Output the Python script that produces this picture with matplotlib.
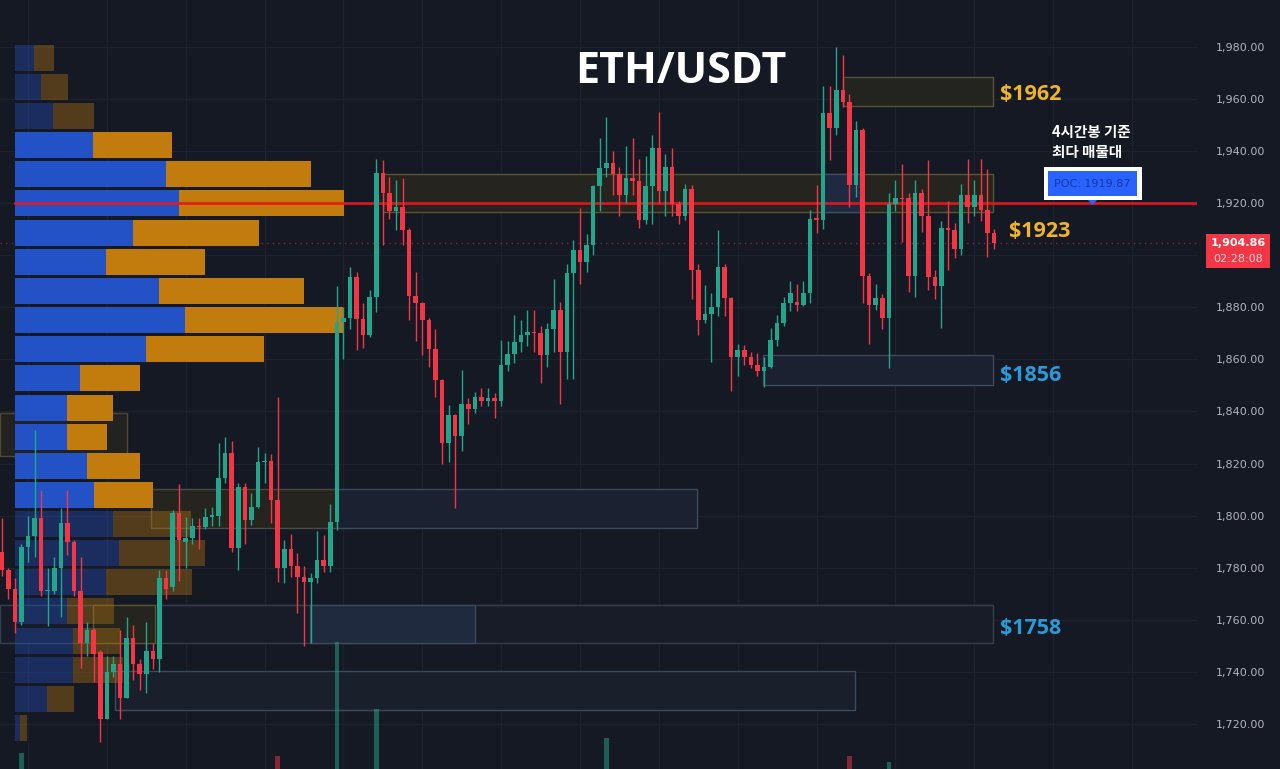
import numpy as np
import matplotlib.pyplot as plt
from matplotlib.patches import Rectangle, Polygon

# ETH/USDT 4h candles (open, high, low, close)
opens = [1786, 1779, 1772, 1759, 1788, 1792, 1799, 1771, 1771, 1780,
         1797, 1790, 1771, 1751, 1756, 1747.5, 1722, 1740, 1743, 1730,
         1753, 1743, 1739, 1748, 1745, 1776, 1772.5, 1801, 1790, 1791.5,
         1796, 1795.5, 1799.5, 1800, 1814.5, 1824, 1787.5, 1811, 1798.5, 1803.5,
         1820.5, 1821, 1806, 1780, 1787, 1780.5, 1776.5, 1774.5, 1776, 1783,
         1780.5, 1797.5, 1874.5, 1876, 1891.5, 1875.5, 1869.5, 1884, 1931.5, 1924,
         1917, 1918.5, 1909.5, 1884.5, 1881.5, 1875, 1864, 1852, 1828, 1838.5,
         1830.5, 1843, 1841, 1845.5, 1844, 1845, 1844, 1858, 1862, 1866.5,
         1869.5, 1870.5, 1870, 1861.5, 1871.5, 1879, 1863, 1893, 1902, 1897.5,
         1904, 1926.5, 1933.5, 1935.5, 1931, 1923, 1929.5, 1928.5, 1913.5, 1926.5,
         1941, 1924.5, 1934, 1919.5, 1915, 1925.5, 1894.5, 1875, 1877.5, 1880,
         1895.5, 1883.5, 1861, 1863.5, 1861, 1858, 1855.5, 1857, 1867.5, 1874,
         1881.5, 1882, 1881, 1885.5, 1914, 1913.5, 1954.5, 1949, 1963.5, 1959,
         1927, 1948, 1892, 1881, 1883.5, 1876, 1919.5, 1922, 1922, 1892,
         1924, 1915, 1891.5, 1888, 1910.5, 1909.5, 1902.5, 1923, 1918.5, 1923,
         1917.5, 1908.5]
highs = [1799, 1780, 1776, 1789, 1800, 1833, 1810, 1780, 1784, 1803,
         1810, 1790.5, 1784, 1759, 1757, 1748.5, 1746, 1746, 1756, 1761,
         1758, 1745, 1759, 1751, 1779, 1779, 1802, 1812, 1799.5, 1799,
         1799, 1803, 1803.5, 1828, 1830, 1828.5, 1812.5, 1812.5, 1808.5, 1826.5,
         1824, 1823.5, 1845.5, 1790.5, 1793, 1785.5, 1780.5, 1778, 1794, 1792.5,
         1804.5, 1888, 1880, 1895.5, 1893.5, 1881.5, 1886.5, 1937, 1936.5, 1930,
         1929, 1929.5, 1910.5, 1893.5, 1882, 1876, 1871.5, 1852.5, 1842.5, 1839,
         1856, 1845, 1847.5, 1849, 1849, 1847, 1867.5, 1867, 1877, 1875,
         1879, 1879, 1873, 1874, 1891, 1882, 1896.5, 1906, 1918, 1908,
         1927, 1945, 1953, 1940, 1934, 1942, 1945, 1937, 1938, 1946,
         1955, 1939, 1941, 1921, 1927.5, 1927, 1896.5, 1888.5, 1885.5, 1909.5,
         1896.5, 1884, 1866, 1865.5, 1863, 1862.5, 1861, 1872, 1877, 1884,
         1890, 1889, 1890, 1917.5, 1927, 1965, 1965, 1980, 1977, 1962,
         1951.5, 1949, 1893, 1889, 1885, 1924, 1929, 1935, 1924, 1929,
         1925.5, 1936.5, 1894.5, 1913, 1921, 1912.5, 1927.5, 1937, 1929, 1937,
         1933, 1910]
lows = [1777, 1768, 1755, 1758, 1782, 1784, 1769, 1757.5, 1770, 1761,
        1785, 1769, 1741.5, 1746, 1736, 1713, 1722, 1738, 1722, 1730,
        1737, 1733, 1732, 1741, 1740, 1768, 1771, 1775, 1780, 1789,
        1787, 1795, 1796, 1796, 1812.5, 1786, 1779, 1789, 1796.5, 1803,
        1812.5, 1797, 1774.5, 1774, 1776.5, 1762.5, 1750, 1751, 1774, 1778.5,
        1778.5, 1794.5, 1860, 1871.5, 1863.5, 1864.5, 1868.5, 1878, 1904, 1914,
        1909.5, 1904, 1875, 1867, 1861.5, 1857, 1845.5, 1820, 1820.5, 1803,
        1825, 1835, 1839.5, 1842, 1842, 1837.5, 1842, 1855.5, 1858.5, 1863,
        1865, 1863, 1851, 1857, 1863, 1843, 1852.5, 1852.5, 1889, 1893.5,
        1900, 1917, 1930, 1923, 1915, 1920, 1923, 1910.5, 1912, 1912,
        1920, 1915, 1915, 1912, 1913.5, 1883, 1869.5, 1874, 1859, 1876.5,
        1876.5, 1848, 1853.5, 1858, 1856.5, 1853.5, 1849.5, 1856.5, 1865, 1873,
        1878.5, 1878.5, 1880.5, 1881.5, 1908.5, 1910, 1936.5, 1946, 1957, 1918.5,
        1922.5, 1881.5, 1866, 1879, 1871.5, 1856.5, 1917, 1905, 1886, 1884,
        1909, 1886.5, 1883, 1872, 1894.5, 1899, 1900, 1912.5, 1915, 1913,
        1899.5, 1902.5]
closes = [1779, 1772, 1759, 1788, 1792, 1799, 1771, 1771.5, 1780, 1797,
          1790, 1771, 1751, 1756, 1747, 1722, 1740, 1743, 1730, 1753,
          1743, 1739, 1748, 1745, 1776, 1772, 1801, 1790.5, 1791.5, 1796,
          1795.5, 1799.5, 1800, 1814.5, 1824, 1787.5, 1811, 1798.5, 1803.5, 1820.5,
          1821, 1806, 1780, 1787, 1780.5, 1776.5, 1774.5, 1776, 1783, 1780.5,
          1797.5, 1874.5, 1876, 1891.5, 1875.5, 1869.5, 1884, 1931.5, 1924, 1917,
          1918.5, 1909.5, 1884.5, 1881.5, 1875, 1864, 1852, 1828, 1838.5, 1830.5,
          1843, 1841, 1845.5, 1844, 1845, 1844, 1858, 1862, 1866.5, 1869.5,
          1870.5, 1870, 1861.5, 1871.5, 1879, 1863, 1893, 1902, 1897.5, 1904,
          1926.5, 1933.5, 1935.5, 1931, 1923, 1929.5, 1928.5, 1913.5, 1926.5, 1941,
          1924.5, 1934, 1919.5, 1915, 1925.5, 1894.5, 1875, 1877.5, 1880, 1895.5,
          1883.5, 1861, 1863.5, 1861, 1858, 1855.5, 1857, 1867.5, 1874, 1881.5,
          1885.5, 1881, 1885.5, 1914, 1913.5, 1954.5, 1949, 1963.5, 1959, 1927,
          1948, 1892, 1881, 1883.5, 1876, 1919.5, 1922, 1921.5, 1892, 1924,
          1915, 1891.5, 1888, 1910.5, 1909.5, 1902.5, 1923, 1918.5, 1923, 1917.5,
          1908.5, 1904.86]

# volume bars that reach into the visible area (candle index, volume)
vol_idx = [3, 42, 51, 57, 92, 129, 135]
vol_val = [1.6, 1.3, 12.7, 6.0, 3.1, 1.3, 0.7]

# volume profile (row price centre, up volume, down volume)
vp_price = [1975.8, 1964.6, 1953.4, 1942.2, 1931.1, 1919.9, 1908.7, 1897.5,
            1886.3, 1875.1, 1863.9, 1852.7, 1841.5, 1830.3, 1819.2, 1808.0,
            1796.8, 1785.6, 1774.4, 1763.2, 1752.0, 1740.8, 1729.6, 1718.4]
vp_up = [19, 26, 38, 78, 151, 164, 118, 91, 144, 170, 131, 65,
         52, 52, 72, 79, 98, 104, 91, 52, 58, 58, 32, 5]
vp_down = [20, 27, 41, 79, 145, 165, 126, 99, 145, 158, 118, 60,
           46, 40, 53, 59, 78, 86, 86, 47, 47, 50, 27, 7]
value_area = (3, 15)   # rows inside the value area (bright)
poc = 1919.87

# supply / demand zones: (start idx, end idx, low, high, face, edge)
zones = [
    (128.0, 150.9, 1957.3, 1968.3, '#232320', '#5a5432'),
    (58.0, 150.9, 1916.5, 1931.1, '#25241f', '#5a5432'),
    (125.0, 130.6, 1916.5, 1931.1, '#1f2a40', '#3d4c66'),
    (115.9, 150.9, 1850.1, 1861.7, '#1b2130', '#3c4a5c'),
    (22.7, 51.0, 1795.2, 1810.3, '#25241e', '#4a4a44'),
    (51.0, 105.8, 1795.2, 1810.3, '#1b2130', '#3c4a5c'),
    (-0.3, 19.1, 1822.9, 1839.4, '#222220', '#4d4a30'),
    (-0.3, 150.9, 1751.1, 1765.7, '#181c28', '#34404f'),
    (46.9, 72.0, 1751.1, 1765.7, '#1f2a3e', '#3c4a5c'),
    (13.9, 23.3, 1751.1, 1765.7, '#25241e', '#5a5432'),
    (17.2, 129.9, 1725.2, 1740.4, '#1a1f2c', '#3c4a5c'),
]

labels = [('$1962', 1000, 100, '#f0b429'), ('$1923', 1009, 237, '#f0b429'),
          ('$1856', 1000, 381, '#2b9ad8'), ('$1758', 1000, 634, '#2b9ad8')]

bg = '#151924'
up_c, dn_c = '#22a58b', '#f23645'
W, H = 1280, 769
bold_font = ['Open Sans', 'DejaVu Sans']

fig = plt.figure(figsize=(W / 100, H / 100), dpi=100, facecolor=bg)
ax = fig.add_axes([0, 0, 1197 / W, 1])
ax.set_facecolor(bg)

n = len(opens)
idx = np.arange(n)
o, h, l, c = map(np.array, (opens, highs, lows, closes))
col = np.where(c >= o, up_c, dn_c)

# zones
for x0, x1, lo, hi, fc, ec in zones:
    ax.add_patch(Rectangle((x0, lo), x1 - x0, hi - lo, facecolor=fc,
                           edgecolor=ec, lw=1, zorder=1))
ax.axhline(closes[-1], color='#f23645', lw=1, ls=(0, (1, 3)), alpha=0.5, zorder=1)

ax.set_xlim(-0.26, 181.9)
ax.set_ylim(1702.7, 1998.0)
yt = np.arange(1720, 1990, 20)
ax.set_yticks(yt)
ax.set_yticklabels(['' if v == 1900 else f'{v:,.2f}' for v in yt])
ax.set_xticks(np.arange(4, 182, 12))
ax.tick_params(axis='x', length=0, labelbottom=False)
ax.yaxis.tick_right()
ax.tick_params(axis='y', length=0, pad=13.7, labelsize=8, labelcolor='#b2b5be')
ax.grid(True, color='#1e222d', lw=1)
ax.set_axisbelow(True)
for s in ax.spines.values():
    s.set_visible(False)

# volume profile on its own x scale (1 unit = 1 px)
axp = fig.add_axes(ax.get_position(), sharey=ax)
axp.set_xlim(-15, 1182)
axp.patch.set_visible(False)
axp.axis('off')
for k, p in enumerate(vp_price):
    inside = value_area[0] <= k <= value_area[1]
    a = 1.0 if inside else 0.36
    axp.barh(p, vp_up[k], height=10, left=0, color='#2352c6', alpha=a)
    axp.barh(p, vp_down[k], height=10, left=vp_up[k], color='#c27c0e', alpha=a)

# volume bars
axv = fig.add_axes(ax.get_position(), sharex=ax)
axv.set_ylim(0, 76.9)
axv.patch.set_visible(False)
axv.axis('off')
vcol = [up_c if closes[i] >= opens[i] else dn_c for i in vol_idx]
axv.bar(vol_idx, vol_val, width=0.7, color=vcol, alpha=0.5)

# candles and POC line on top
top = fig.add_axes(ax.get_position(), sharex=ax, sharey=ax)
top.patch.set_visible(False)
top.axis('off')
top.axhline(poc, xmin=15 / 1197, color='#e8171b', lw=2, zorder=5, alpha=0.9)
top.vlines(idx, l, h, colors=col, lw=1, zorder=6)
body = np.maximum(np.abs(c - o), 0.6)
top.bar(idx, body, bottom=np.minimum(o, c), width=0.7, color=col, zorder=7)

# texts
fig.text(681 / W, 1 - 83.3 / H, 'ETH/USDT', ha='center', va='baseline',
         fontsize=31, fontweight='bold', family=bold_font, color='white')
for txt, x, y, cc in labels:
    fig.text(x / W, 1 - y / H, txt, ha='left', va='baseline', fontsize=15.5,
             fontweight='bold', family=bold_font, color=cc)
fig.text(1052 / W, 1 - 137 / H, '4시간봉 기준', ha='left', va='baseline',
         fontsize=10.5, fontweight='bold', color='white',
         family=['Noto Sans CJK KR', 'DejaVu Sans'])
fig.text(1052 / W, 1 - 157 / H, '최다 매물대', ha='left', va='baseline',
         fontsize=10.5, fontweight='bold', color='white',
         family=['Noto Sans CJK KR', 'DejaVu Sans'])

# POC label box
fig.patches.append(Rectangle((1044 / W, 1 - 200 / H), 98 / W, 33 / H,
                             transform=fig.transFigure, facecolor='white', zorder=10))
fig.patches.append(Rectangle((1048 / W, 1 - 196 / H), 89 / W, 25 / H,
                             transform=fig.transFigure, facecolor='#2962ff', zorder=11))
fig.patches.append(Polygon([(1088 / W, 1 - 200 / H), (1097 / W, 1 - 200 / H),
                            (1092.5 / W, 1 - 205 / H)], closed=True,
                           transform=fig.transFigure, facecolor='#2962ff', zorder=11))
fig.text(1092.5 / W, 1 - 184 / H, f'POC: {poc}', ha='center', va='center',
         fontsize=8, color='#17399a', zorder=12)

# last price tag
fig.patches.append(Rectangle((1206 / W, 1 - 268 / H), 64 / W, 34 / H,
                             transform=fig.transFigure, facecolor='#f23645', zorder=10))
fig.text(1238 / W, 1 - 243 / H, f'{closes[-1]:,.2f}', ha='center', va='center',
         fontsize=8, fontweight='bold', color='white', zorder=12)
fig.text(1238 / W, 1 - 259 / H, '02:28:08', ha='center', va='center',
         fontsize=8, color='#ffd8dc', zorder=12)

fig.savefig('out.png', dpi=100, facecolor=bg)
